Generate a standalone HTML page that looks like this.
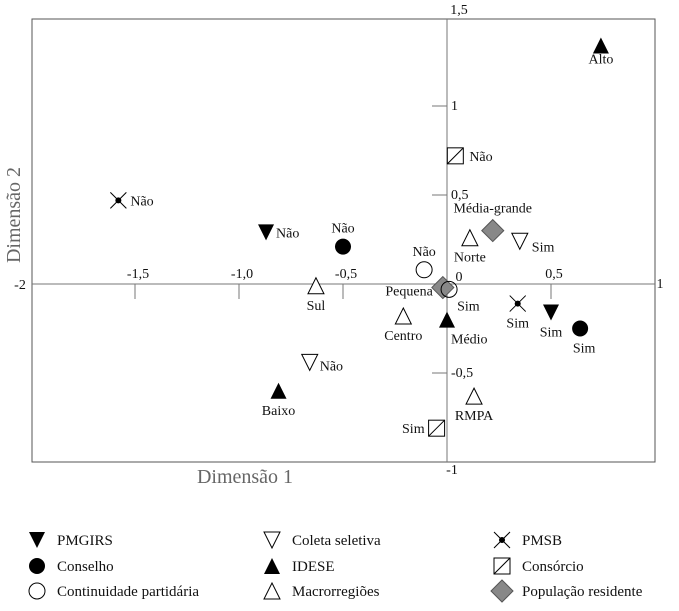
<!DOCTYPE html>
<html><head><meta charset="utf-8"><style>
body{margin:0;background:#fff;}
svg{display:block;}
svg text{font-family:"Liberation Serif","DejaVu Serif",serif;}
</style></head><body>
<svg id="chart" width="679" height="611" viewBox="0 0 679 611" font-family="Liberation Serif, serif">
<rect x="32" y="19" width="623" height="443" fill="none" stroke="#555" stroke-width="1"/>
<g id="axes"></g>
<g id="marks"></g>
<text x="20" y="215" font-size="20" fill="#666" text-anchor="middle" transform="rotate(-90 20 215)">Dimensão 2</text>
<text x="245" y="483" font-size="20" fill="#666" text-anchor="middle">Dimensão 1</text>
<g id="legend"></g>
</svg>
<script>
const categories = ["Alto","Não","Não","Não","Não","Não","Média-grande","Norte","Sim","Sul","Pequena","Sim","Sim","Sim","Sim","Centro","Médio","Não","Baixo","RMPA","Sim"];
const variables = ["idese","consorcio","pmsb","pmgirs","conselho","continuidade","populacao","macro","coleta","macro","populacao","continuidade","pmsb","pmgirs","conselho","macro","idese","coleta","idese","macro","consorcio"];
const dim1 = [0.74,0.04,-1.58,-0.87,-0.50,-0.11,0.22,0.11,0.35,-0.63,-0.02,0.01,0.34,0.50,0.64,-0.21,0.0,-0.66,-0.81,0.13,-0.05];
const dim2 = [1.34,0.72,0.47,0.29,0.21,0.08,0.30,0.26,0.24,-0.01,-0.02,-0.03,-0.11,-0.16,-0.25,-0.18,-0.20,-0.44,-0.60,-0.63,-0.81];
const xTicks = [-1.5,-1.0,-0.5,0.5];
const xTickLabels = ["-1,5","-1,0","-0,5","0,5"];
const yTicks = [1,0.5,-0.5];
const yTickLabels = ["1","0,5","-0,5"];
const legendNames = ["PMGIRS","Conselho","Continuidade partidária","Coleta seletiva","IDESE","Macrorregiões","PMSB","Consórcio","População residente"];
const legendKeys = ["pmgirs","conselho","continuidade","coleta","idese","macro","pmsb","consorcio","populacao"];

const X = v => 447 + v*208;
const Y = v => 284 - v*178;
const NS = "http://www.w3.org/2000/svg";
function el(tag, attrs, parent){const e=document.createElementNS(NS,tag);for(const k in attrs)e.setAttribute(k,attrs[k]);parent.appendChild(e);return e;}
function txt(s,x,y,size,anchor,parent){const t=el("text",{x:x,y:y,"font-size":size,"text-anchor":anchor||"start",fill:"#111","font-family":"Liberation Serif, serif"},parent);t.textContent=s;return t;}

const axes=document.getElementById("axes");
let l=el("line",{x1:32,y1:Y(0),x2:655,y2:Y(0),stroke:"#777","stroke-width":1},axes);


l=el("line",{x1:X(0),y1:19,x2:X(0),y2:462,stroke:"#777","stroke-width":1},axes);


xTicks.forEach((v,i)=>{
  const t=el("line",{x1:X(v),y1:Y(0),x2:X(v),y2:Y(0)+15,stroke:"#777"},axes);
  
  
  const lb=txt(xTickLabels[i],X(v)+3,Y(0)-6,14,"middle",axes);
  
  
});
yTicks.forEach((v,i)=>{
  const t=el("line",{x1:X(0)-15,y1:Y(v),x2:X(0),y2:Y(v),stroke:"#777"},axes);
  
  
  const lb=txt(yTickLabels[i],X(0)+4,Y(v)+4,14,"start",axes);
  
  
});
[["1,5",459,14],["0",459,281],["1",660,288],["-2",20,289],["-1",452,474]].forEach(a=>{
  const lb=txt(a[0],a[1],a[2],14,"middle",axes);
  
  
});

function marker(kind,cx,cy,parent){
  const g=el("g",{},parent);
  const s=8;
  if(kind==="pmgirs") el("polygon",{points:`${cx-s},${cy-s} ${cx+s},${cy-s} ${cx},${cy+s}`,fill:"#000"},g);
  else if(kind==="coleta") el("polygon",{points:`${cx-s},${cy-s} ${cx+s},${cy-s} ${cx},${cy+s}`,fill:"#fff",stroke:"#000"},g);
  else if(kind==="idese") el("polygon",{points:`${cx-s},${cy+s} ${cx+s},${cy+s} ${cx},${cy-s}`,fill:"#000"},g);
  else if(kind==="macro") el("polygon",{points:`${cx-s},${cy+s} ${cx+s},${cy+s} ${cx},${cy-s}`,fill:"#fff",stroke:"#000"},g);
  else if(kind==="conselho") el("circle",{cx:cx,cy:cy,r:8,fill:"#000"},g);
  else if(kind==="continuidade") el("circle",{cx:cx,cy:cy,r:8,fill:"none",stroke:"#000"},g);
  else if(kind==="pmsb"){el("line",{x1:cx-8,y1:cy-8,x2:cx+8,y2:cy+8,stroke:"#000"},g);el("line",{x1:cx+8,y1:cy-8,x2:cx-8,y2:cy+8,stroke:"#000"},g);el("circle",{cx:cx,cy:cy,r:3,fill:"#000"},g);}
  else if(kind==="consorcio"){el("rect",{x:cx-8,y:cy-8,width:16,height:16,fill:"#fff",stroke:"#000"},g);el("line",{x1:cx-8,y1:cy+8,x2:cx+8,y2:cy-8,stroke:"#000"},g);}
  else if(kind==="populacao") el("polygon",{points:`${cx},${cy-11} ${cx+11},${cy} ${cx},${cy+11} ${cx-11},${cy}`,fill:"#888",stroke:"#555"},g);
  return g;
}
const labelPos = [[0,18,"middle"],[14,5,"start"],[12,5,"start"],[10,5,"start"],[0,-14,"middle"],[0,-14,"middle"],[0,-18,"middle"],[0,24,"middle"],[12,10,"start"],[0,24,"middle"],[-10,8,"end"],[8,21,"start"],[0,24,"middle"],[0,24,"middle"],[4,24,"middle"],[0,24,"middle"],[4,24,"start"],[10,8,"start"],[0,24,"middle"],[0,24,"middle"],[-12,5,"end"]];
const marks=document.getElementById("marks");
dim1.forEach((d,i)=>{
  const cx=X(d), cy=Y(dim2[i]);
  const g=marker(variables[i],cx,cy,marks);
  
  
  const p=labelPos[i];
  const t=txt(categories[i],cx+p[0],cy+p[1],14,p[2],marks);
  
  
});
const legend=document.getElementById("legend");
const colX=[37,272,502], rowY=[540,566,591];
legendNames.forEach((n,i)=>{
  const c=Math.floor(i/3), r=i%3;
  const g=el("g",{},legend);
  
  
  marker(legendKeys[i],colX[c],rowY[r],g);
  txt(n,colX[c]+20,rowY[r]+5,15,"start",g);
});
</script>
</body></html>
